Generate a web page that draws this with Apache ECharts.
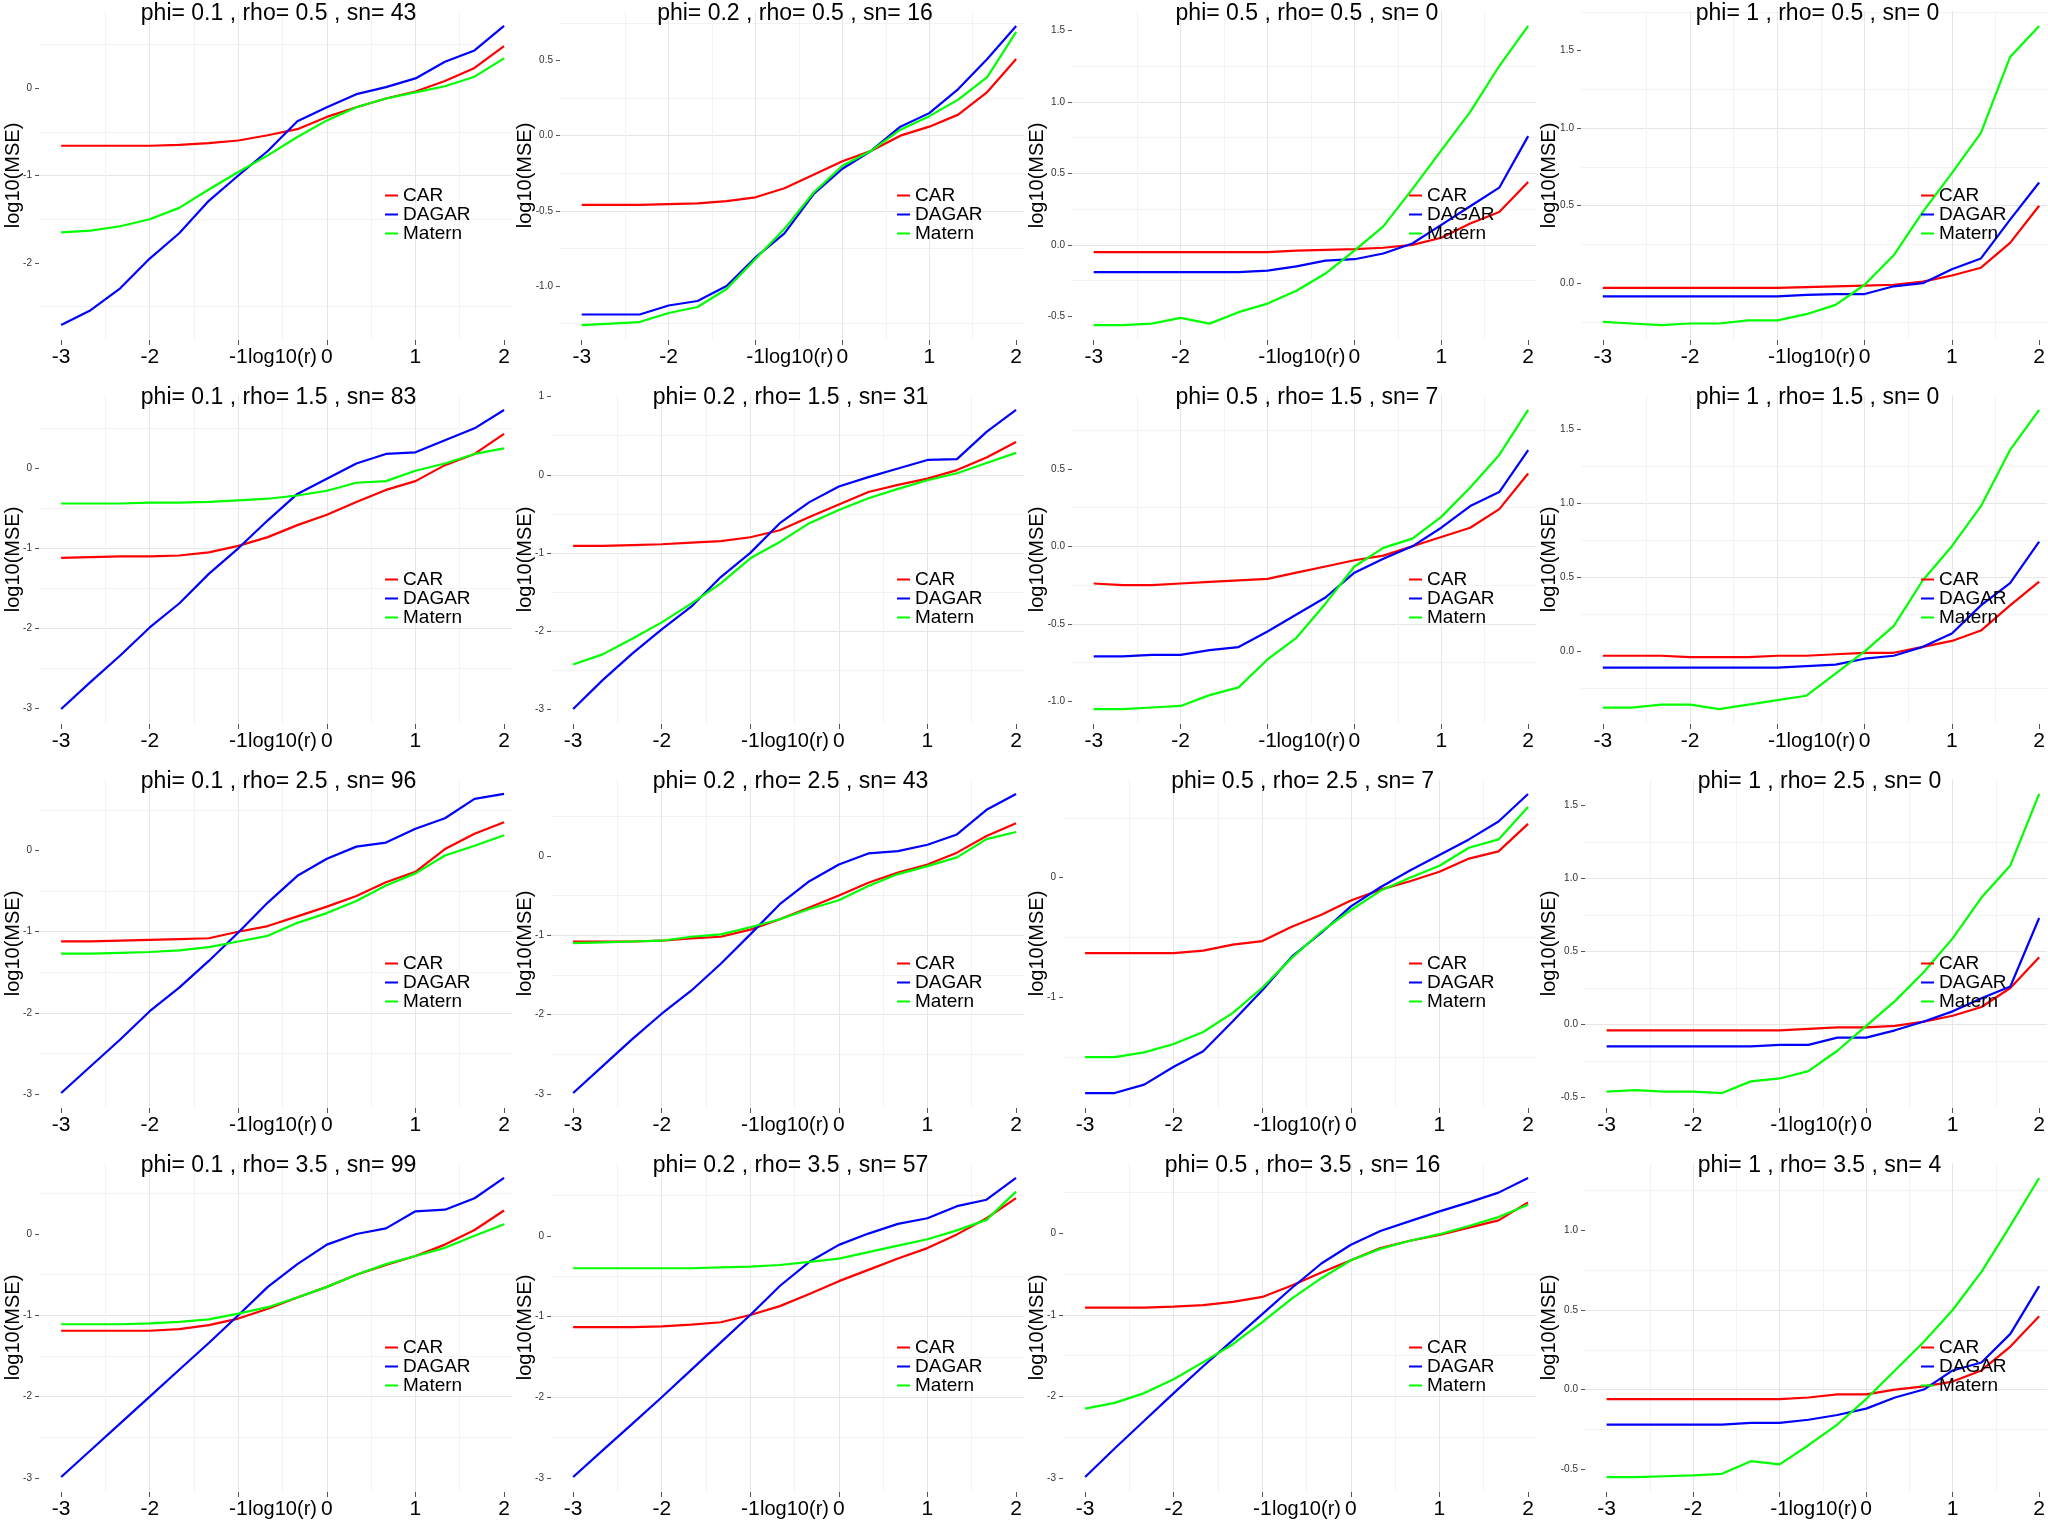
<!DOCTYPE html>
<html>
<head>
<meta charset="utf-8">
<title>log10(MSE) vs log10(r)</title>
<script src="https://cdn.jsdelivr.net/npm/echarts@6/dist/echarts.min.js"></script>
<style>
  html, body { margin: 0; padding: 0; background: #fff; }
  #chart { width: 2048px; height: 1536px; }
</style>
</head>
<body>
<div id="chart"></div>
<script>
// x grid shared by every panel
const logR = [-3, -2.667, -2.333, -2, -1.667, -1.333, -1, -0.667, -0.333, 0, 0.333, 0.667, 1, 1.333, 1.667, 2];
const xTicks = [-3, -2, -1, 0, 1, 2];

// panel headers (row = rho, column = phi)
const phiVals = [0.1, 0.2, 0.5, 1];
const rhoVals = [0.5, 1.5, 2.5, 3.5];
const snVals = [43, 16, 0, 0, 83, 31, 7, 0, 96, 43, 7, 0, 99, 57, 16, 4];
const yStep = [1, 0.5, 0.5, 0.5, 1, 1, 0.5, 0.5, 1, 1, 1, 0.5, 1, 1, 1, 0.5];

// log10(MSE), one row per panel
const carMSE = [
  [-0.66, -0.66, -0.66, -0.66, -0.65, -0.63, -0.60, -0.54, -0.47, -0.33, -0.22, -0.12, -0.04, 0.08, 0.23, 0.48],
  [-0.46, -0.46, -0.46, -0.455, -0.45, -0.435, -0.41, -0.35, -0.26, -0.17, -0.10, 0.0, 0.06, 0.14, 0.29, 0.51],
  [-0.05, -0.05, -0.05, -0.05, -0.05, -0.05, -0.05, -0.04, -0.035, -0.03, -0.02, 0.0, 0.05, 0.15, 0.23, 0.44],
  [-0.03, -0.03, -0.03, -0.03, -0.03, -0.03, -0.03, -0.025, -0.02, -0.015, -0.01, 0.01, 0.05, 0.10, 0.26, 0.50],
  [-1.12, -1.11, -1.10, -1.10, -1.09, -1.05, -0.97, -0.86, -0.71, -0.58, -0.42, -0.27, -0.16, 0.04, 0.18, 0.43],
  [-0.91, -0.91, -0.90, -0.89, -0.87, -0.85, -0.80, -0.71, -0.54, -0.38, -0.22, -0.13, -0.05, 0.06, 0.22, 0.42],
  [-0.24, -0.25, -0.25, -0.24, -0.23, -0.22, -0.21, -0.17, -0.13, -0.09, -0.06, 0.0, 0.06, 0.12, 0.24, 0.47],
  [-0.03, -0.03, -0.03, -0.04, -0.04, -0.04, -0.03, -0.03, -0.02, -0.01, -0.01, 0.03, 0.07, 0.14, 0.31, 0.47],
  [-1.12, -1.12, -1.11, -1.10, -1.09, -1.08, -1.00, -0.93, -0.81, -0.69, -0.56, -0.39, -0.26, 0.02, 0.21, 0.35],
  [-1.08, -1.08, -1.08, -1.07, -1.04, -1.02, -0.93, -0.80, -0.65, -0.50, -0.34, -0.21, -0.11, 0.04, 0.25, 0.41],
  [-0.63, -0.63, -0.63, -0.63, -0.61, -0.56, -0.53, -0.41, -0.31, -0.19, -0.10, -0.03, 0.05, 0.16, 0.22, 0.45],
  [-0.04, -0.04, -0.04, -0.04, -0.04, -0.04, -0.04, -0.03, -0.02, -0.02, -0.01, 0.02, 0.06, 0.12, 0.25, 0.46],
  [-1.19, -1.19, -1.19, -1.19, -1.17, -1.12, -1.04, -0.92, -0.78, -0.65, -0.50, -0.38, -0.27, -0.13, 0.05, 0.29],
  [-1.13, -1.13, -1.13, -1.12, -1.10, -1.07, -0.98, -0.87, -0.72, -0.56, -0.42, -0.28, -0.15, 0.02, 0.22, 0.47],
  [-0.91, -0.91, -0.91, -0.90, -0.88, -0.84, -0.78, -0.64, -0.48, -0.33, -0.18, -0.09, -0.02, 0.07, 0.16, 0.38],
  [-0.06, -0.06, -0.06, -0.06, -0.06, -0.06, -0.06, -0.05, -0.03, -0.03, 0.0, 0.02, 0.05, 0.12, 0.27, 0.46]
];
const dagarMSE = [
  [-2.71, -2.54, -2.29, -1.95, -1.66, -1.29, -1.00, -0.72, -0.38, -0.22, -0.07, 0.01, 0.11, 0.30, 0.43, 0.71],
  [-1.19, -1.19, -1.19, -1.13, -1.10, -1.00, -0.81, -0.65, -0.39, -0.22, -0.10, 0.06, 0.15, 0.31, 0.51, 0.73],
  [-0.19, -0.19, -0.19, -0.19, -0.19, -0.19, -0.18, -0.15, -0.11, -0.10, -0.06, 0.01, 0.14, 0.27, 0.40, 0.76],
  [-0.085, -0.085, -0.085, -0.085, -0.085, -0.085, -0.085, -0.075, -0.07, -0.07, -0.02, 0.0, 0.09, 0.16, 0.41, 0.65],
  [-3.01, -2.67, -2.34, -1.99, -1.69, -1.32, -1.00, -0.65, -0.32, -0.13, 0.06, 0.18, 0.20, 0.35, 0.50, 0.73],
  [-3.00, -2.63, -2.29, -1.98, -1.69, -1.31, -1.00, -0.62, -0.35, -0.15, -0.03, 0.08, 0.19, 0.20, 0.55, 0.83],
  [-0.71, -0.71, -0.70, -0.70, -0.67, -0.65, -0.55, -0.44, -0.33, -0.17, -0.08, 0.0, 0.12, 0.26, 0.35, 0.62],
  [-0.11, -0.11, -0.11, -0.11, -0.11, -0.11, -0.11, -0.10, -0.09, -0.05, -0.03, 0.03, 0.12, 0.31, 0.46, 0.74],
  [-2.99, -2.66, -2.33, -1.98, -1.69, -1.36, -1.01, -0.64, -0.31, -0.10, 0.05, 0.10, 0.27, 0.40, 0.64, 0.70],
  [-2.99, -2.65, -2.31, -1.99, -1.70, -1.36, -0.99, -0.61, -0.32, -0.11, 0.03, 0.06, 0.14, 0.27, 0.58, 0.78],
  [-1.80, -1.80, -1.73, -1.58, -1.45, -1.20, -0.94, -0.66, -0.46, -0.24, -0.08, 0.06, 0.19, 0.32, 0.47, 0.70],
  [-0.15, -0.15, -0.15, -0.15, -0.15, -0.15, -0.14, -0.14, -0.09, -0.09, -0.04, 0.02, 0.09, 0.18, 0.26, 0.73],
  [-2.99, -2.66, -2.33, -2.00, -1.67, -1.34, -1.00, -0.65, -0.37, -0.13, 0.0, 0.07, 0.28, 0.30, 0.44, 0.69],
  [-2.99, -2.66, -2.33, -2.00, -1.66, -1.32, -0.98, -0.62, -0.32, -0.11, 0.03, 0.15, 0.22, 0.37, 0.45, 0.72],
  [-2.99, -2.64, -2.30, -1.96, -1.63, -1.31, -0.99, -0.67, -0.37, -0.14, 0.03, 0.15, 0.27, 0.38, 0.50, 0.68],
  [-0.22, -0.22, -0.22, -0.22, -0.22, -0.21, -0.21, -0.19, -0.16, -0.12, -0.05, 0.0, 0.12, 0.17, 0.35, 0.65]
];
const maternMSE = [
  [-1.65, -1.63, -1.58, -1.50, -1.37, -1.16, -0.96, -0.77, -0.56, -0.37, -0.22, -0.12, -0.05, 0.02, 0.13, 0.34],
  [-1.26, -1.25, -1.24, -1.18, -1.14, -1.02, -0.82, -0.62, -0.38, -0.20, -0.10, 0.04, 0.13, 0.24, 0.39, 0.69],
  [-0.56, -0.56, -0.55, -0.51, -0.55, -0.47, -0.41, -0.32, -0.20, -0.04, 0.13, 0.39, 0.66, 0.93, 1.25, 1.53],
  [-0.25, -0.26, -0.27, -0.26, -0.26, -0.24, -0.24, -0.20, -0.14, -0.01, 0.18, 0.46, 0.71, 0.97, 1.46, 1.66],
  [-0.44, -0.44, -0.44, -0.43, -0.43, -0.42, -0.40, -0.38, -0.34, -0.28, -0.18, -0.16, -0.03, 0.06, 0.18, 0.25],
  [-2.43, -2.30, -2.10, -1.89, -1.65, -1.39, -1.07, -0.86, -0.62, -0.45, -0.30, -0.18, -0.07, 0.02, 0.15, 0.28],
  [-1.05, -1.05, -1.04, -1.03, -0.96, -0.91, -0.73, -0.59, -0.37, -0.13, -0.01, 0.05, 0.19, 0.38, 0.59, 0.88],
  [-0.38, -0.38, -0.36, -0.36, -0.39, -0.36, -0.33, -0.30, -0.15, 0.0, 0.17, 0.48, 0.71, 0.98, 1.36, 1.63],
  [-1.27, -1.27, -1.26, -1.25, -1.23, -1.19, -1.12, -1.05, -0.89, -0.77, -0.62, -0.43, -0.28, -0.06, 0.06, 0.19],
  [-1.10, -1.09, -1.08, -1.07, -1.02, -0.99, -0.90, -0.80, -0.67, -0.56, -0.38, -0.23, -0.13, -0.02, 0.21, 0.30],
  [-1.50, -1.50, -1.46, -1.39, -1.29, -1.13, -0.92, -0.67, -0.45, -0.27, -0.11, 0.0, 0.10, 0.25, 0.32, 0.59],
  [-0.46, -0.45, -0.46, -0.46, -0.47, -0.39, -0.37, -0.32, -0.18, -0.01, 0.16, 0.36, 0.59, 0.87, 1.09, 1.58],
  [-1.11, -1.11, -1.11, -1.10, -1.08, -1.05, -0.98, -0.90, -0.78, -0.65, -0.50, -0.37, -0.27, -0.17, -0.02, 0.12],
  [-0.40, -0.40, -0.40, -0.40, -0.40, -0.39, -0.38, -0.36, -0.32, -0.28, -0.20, -0.12, -0.04, 0.07, 0.20, 0.55],
  [-2.15, -2.08, -1.96, -1.79, -1.58, -1.36, -1.09, -0.80, -0.55, -0.33, -0.19, -0.09, -0.01, 0.09, 0.20, 0.35],
  [-0.55, -0.55, -0.545, -0.54, -0.53, -0.45, -0.47, -0.35, -0.22, -0.06, 0.12, 0.30, 0.50, 0.74, 1.03, 1.33]
];

const seriesNames = ['CAR', 'DAGAR', 'Matern'];
const seriesColors = ['#ff0000', '#0000ff', '#00ff00'];

// layout: each panel is 512 x 384, plot area starts after the y labels
const panelW = 512, panelH = 384;
const leftPad = [39, 48, 48, 45, 39, 39, 48, 45, 39, 39, 39, 49, 39, 39, 39, 49];
const xMin = -3.25, xMax = 2.09;
const font = 'Liberation Sans, Arial, sans-serif';

const grids = [], xAxes = [], yAxes = [], texts = [], legends = [], series = [];

for (let i = 0; i < 16; i++) {
  const r = Math.floor(i / 4), c = i % 4;
  const px = c * panelW, py = r * panelH;
  const left = px + leftPad[i];
  const width = panelW - leftPad[i];
  const top = py + 11, height = 329;
  const scale = width / (xMax - xMin);

  const rows = [carMSE[i], dagarMSE[i], maternMSE[i]];
  const all = rows.flat();
  const lo = Math.min(...all), hi = Math.max(...all);
  const pad = 0.05 * (hi - lo);
  const yMin = lo - pad, yMax = hi + pad;
  const step = yStep[i];
  const yTicks = [];
  for (let k = Math.ceil(yMin / step); k * step <= yMax; k++) {
    yTicks.push(Math.round(k * step * 10) / 10);
  }

  grids.push({ left: left, top: top, width: width, height: height });

  xAxes.push({
    type: 'value', gridIndex: i, min: xMin, max: xMax,
    minInterval: 1, maxInterval: 1,
    name: 'log10(r)', nameLocation: 'middle', nameGap: 7, nameMoveOverlap: false,
    nameTextStyle: { fontSize: 20, color: '#000', fontFamily: font, padding: [0, 0, 0, 14] },
    axisLine: { show: false, onZero: false },
    axisTick: { show: true, length: 5, customValues: xTicks, lineStyle: { color: '#555' } },
    axisLabel: { customValues: xTicks, fontSize: 21, color: '#000', margin: 7, fontFamily: font },
    splitLine: { show: true, showMinLine: false, showMaxLine: false, lineStyle: { color: '#e6e6e6', width: 1 } },
    minorTick: { show: false, splitNumber: 2 },
    minorSplitLine: { show: true, lineStyle: { color: '#f3f3f3', width: 1 } }
  });

  yAxes.push({
    type: 'value', gridIndex: i, min: yMin, max: yMax,
    minInterval: step, maxInterval: step,
    name: 'log10(MSE)', nameLocation: 'middle', nameRotate: 90, nameGap: leftPad[i] - 23,
    nameMoveOverlap: false,
    nameTextStyle: { fontSize: 20, color: '#000', fontFamily: font },
    axisLine: { show: false, onZero: false },
    axisTick: { show: true, length: 4, customValues: yTicks, lineStyle: { color: '#555' } },
    axisLabel: {
      customValues: yTicks, fontSize: 10, color: '#333', margin: 7, fontFamily: font,
      formatter: v => (step < 1 ? Number(v).toFixed(1) : String(Math.round(v)))
    },
    splitLine: { show: true, showMinLine: false, showMaxLine: false, lineStyle: { color: '#e6e6e6', width: 1 } },
    minorTick: { show: false, splitNumber: 2 },
    minorSplitLine: { show: true, lineStyle: { color: '#f3f3f3', width: 1 } }
  });

  // panel title, centred over the middle of the expanded x range
  texts.push({
    type: 'text', x: left + (-0.5 - xMin) * scale - 4, y: py + 14, z: 10,
    style: {
      text: 'phi= ' + phiVals[c] + ' , rho= ' + rhoVals[r] + ' , sn= ' + snVals[i],
      fontSize: 23, fontFamily: font, fill: '#000', align: 'center', verticalAlign: 'middle'
    }
  });

  legends.push({
    data: seriesNames, orient: 'vertical', left: px + 385, top: py + 186,
    padding: 0, itemGap: 0, itemWidth: 13, itemHeight: 2, icon: 'rect',
    textStyle: { fontSize: 19, lineHeight: 17.5, color: '#000', fontFamily: font }
  });

  rows.forEach((vals, s) => {
    series.push({
      name: seriesNames[s], type: 'line', xAxisIndex: i, yAxisIndex: i,
      data: logR.map((x, k) => [x, vals[k]]),
      showSymbol: false, symbol: 'none', animation: false,
      color: seriesColors[s],
      lineStyle: { width: 2.2, color: seriesColors[s] }
    });
  });
}

const chart = echarts.init(document.getElementById('chart'), null, { renderer: 'canvas' });
chart.setOption({
  backgroundColor: '#fff',
  animation: false,
  legend: legends,
  grid: grids,
  xAxis: xAxes,
  yAxis: yAxes,
  graphic: texts,
  series: series
});
</script>
</body>
</html>
